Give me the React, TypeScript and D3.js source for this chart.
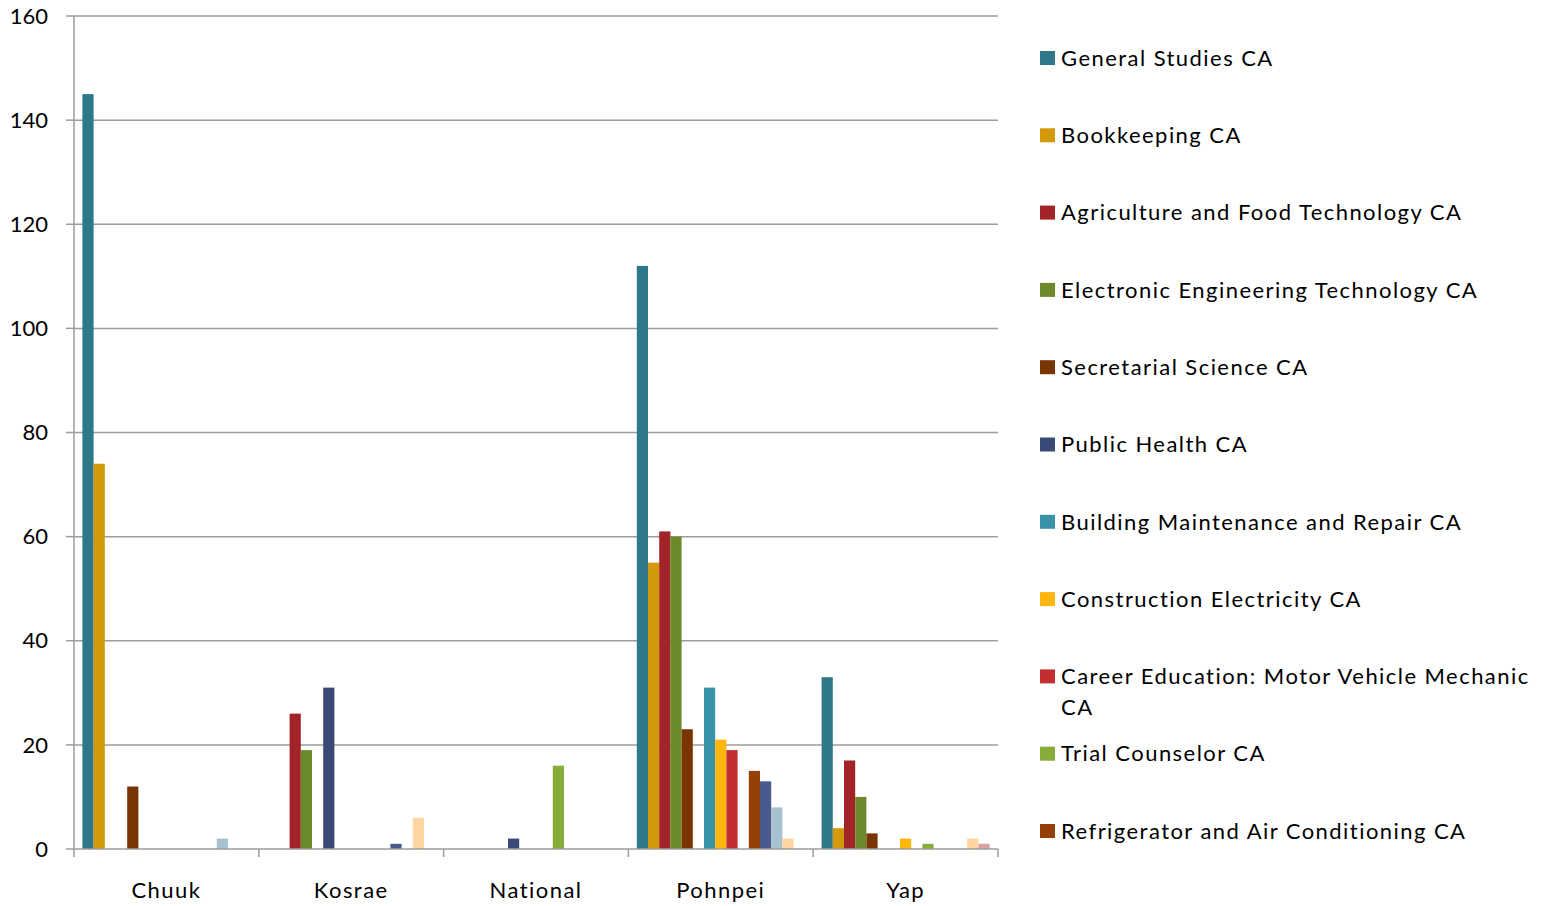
import React, { useEffect, useRef } from "react";
import * as d3 from "d3";

const categories = ["Chuuk", "Kosrae", "National", "Pohnpei", "Yap"];

const seriesNames = [
  "General Studies CA",
  "Bookkeeping CA",
  "Agriculture and Food Technology CA",
  "Electronic Engineering Technology CA",
  "Secretarial Science CA",
  "Public Health CA",
  "Building Maintenance and Repair CA",
  "Construction Electricity CA",
  "Career Education: Motor Vehicle Mechanic CA",
  "Trial Counselor CA",
  "Refrigerator and Air Conditioning CA",
  "Series 12",
  "Series 13",
  "Series 14",
  "Series 15",
];

// values per series, in category order: Chuuk, Kosrae, National, Pohnpei, Yap
const generalStudies = [145, 0, 0, 112, 33];
const bookkeeping = [74, 0, 0, 55, 4];
const agriculture = [0, 26, 0, 61, 17];
const electronic = [0, 19, 0, 60, 10];
const secretarial = [12, 0, 0, 23, 3];
const publicHealth = [0, 31, 2, 0, 0];
const buildingMaint = [0, 0, 0, 31, 0];
const constructionElec = [0, 0, 0, 21, 2];
const careerEd = [0, 0, 0, 19, 0];
const trialCounselor = [0, 0, 16, 0, 1];
const refrigerator = [0, 0, 0, 15, 0];
const series12 = [0, 1, 0, 13, 0];
const series13 = [2, 0, 0, 8, 0];
const series14 = [0, 6, 0, 2, 2];
const series15 = [0, 0, 0, 0, 1];

const seriesValues = [
  generalStudies, bookkeeping, agriculture, electronic, secretarial, publicHealth,
  buildingMaint, constructionElec, careerEd, trialCounselor, refrigerator,
  series12, series13, series14, series15,
];

const seriesColors = [
  "#2F7889", "#D3990B", "#A22428", "#6B8B2A", "#7A3505", "#3A4A77",
  "#3A92A8", "#FDB60B", "#C32E30", "#87AC37", "#934108",
  "#4A5A8E", "#A7C2CF", "#FFD5A1", "#D9A3A3",
];

const yTicks = [0, 20, 40, 60, 80, 100, 120, 140, 160];
const legendCount = 11;

const FONT = "Lato, 'Open Sans', sans-serif";
const LS = 1.45;

export default function App() {
  const ref = useRef<SVGSVGElement>(null);

  useEffect(() => {
    const svg = d3.select(ref.current);
    svg.selectAll("*").remove();

    const left = 74, right = 998, top = 16, bottom = 849;
    const y = d3.scaleLinear().domain([0, 160]).range([bottom, top]);
    const x0 = d3.scaleBand<string>().domain(categories).range([left, right]).paddingInner(0).paddingOuter(0);
    const x1 = d3.scaleBand<number>()
      .domain(d3.range(seriesNames.length))
      .range([0, x0.bandwidth()])
      .paddingInner(0)
      .paddingOuter(0.75);

    const grid = "#9C9C9C";

    // gridlines
    svg.append("g").selectAll("line").data(yTicks.filter((t) => t > 0)).join("line")
      .attr("x1", left).attr("x2", right)
      .attr("y1", (d) => y(d)).attr("y2", (d) => y(d))
      .attr("stroke", grid).attr("stroke-width", 1.5);

    // y axis
    const yAxis = svg.append("g");
    yAxis.append("line").attr("x1", left).attr("x2", left).attr("y1", top).attr("y2", bottom)
      .attr("stroke", grid).attr("stroke-width", 1.5);
    yAxis.selectAll("line.tick").data(yTicks).join("line").attr("class", "tick")
      .attr("x1", left - 8).attr("x2", left)
      .attr("y1", (d) => y(d)).attr("y2", (d) => y(d))
      .attr("stroke", grid).attr("stroke-width", 1.5);
    yAxis.selectAll("text").data(yTicks).join("text")
      .attr("x", 48).attr("y", (d) => y(d)).attr("dy", "0.35em")
      .attr("text-anchor", "end").attr("font-family", FONT).attr("font-size", 22)
      .attr("fill", "#000").text((d) => String(d));

    // bars
    const bars = svg.append("g");
    categories.forEach((cat, ci) => {
      seriesValues.forEach((vals, si) => {
        const v = vals[ci];
        if (!v) return;
        bars.append("rect")
          .attr("x", (x0(cat) as number) + (x1(si) as number))
          .attr("width", x1.bandwidth())
          .attr("y", y(v))
          .attr("height", y(0) - y(v))
          .attr("fill", seriesColors[si]);
      });
    });

    // x axis
    const xAxis = svg.append("g");
    xAxis.append("line").attr("x1", left).attr("x2", right).attr("y1", bottom).attr("y2", bottom)
      .attr("stroke", grid).attr("stroke-width", 1.5);
    const bounds = categories.map((c) => x0(c) as number).concat([right]);
    xAxis.selectAll("line.tick").data(bounds).join("line").attr("class", "tick")
      .attr("x1", (d) => d).attr("x2", (d) => d)
      .attr("y1", bottom).attr("y2", bottom + 8)
      .attr("stroke", grid).attr("stroke-width", 1.5);
    xAxis.selectAll("text").data(categories).join("text")
      .attr("x", (d) => (x0(d) as number) + x0.bandwidth() / 2)
      .attr("y", 890).attr("dy", "0.35em")
      .attr("text-anchor", "middle").attr("font-family", FONT).attr("font-size", 22)
      .attr("letter-spacing", LS)
      .attr("fill", "#000").text((d) => d);

    // legend
    const legend = svg.append("g");
    const lx = 1040, maxW = 484;
    for (let i = 0; i < legendCount; i++) {
      const cy = 58 + i * 77.3;
      legend.append("rect").attr("x", lx).attr("y", cy - 7).attr("width", 15).attr("height", 14)
        .attr("fill", seriesColors[i]);
      const t = legend.append("text").attr("x", lx + 21).attr("y", cy)
        .attr("font-family", FONT).attr("font-size", 22).attr("letter-spacing", LS).attr("fill", "#000");
      const words = seriesNames[i].split(" ");
      let line: string[] = [];
      let tspan = t.append("tspan").attr("x", lx + 21).attr("dy", "0.35em");
      for (const w of words) {
        line.push(w);
        tspan.text(line.join(" "));
        const node = tspan.node() as SVGTSpanElement;
        if (node.getComputedTextLength() > maxW && line.length > 1) {
          line.pop();
          tspan.text(line.join(" "));
          line = [w];
          tspan = t.append("tspan").attr("x", lx + 21).attr("dy", "1.4em").text(w);
        }
      }
    }
  }, []);

  return (
    <svg
      ref={ref}
      width={1547}
      height={906}
      style={{ position: "absolute", left: 0, top: 0, background: "#fff" }}
    />
  );
}
